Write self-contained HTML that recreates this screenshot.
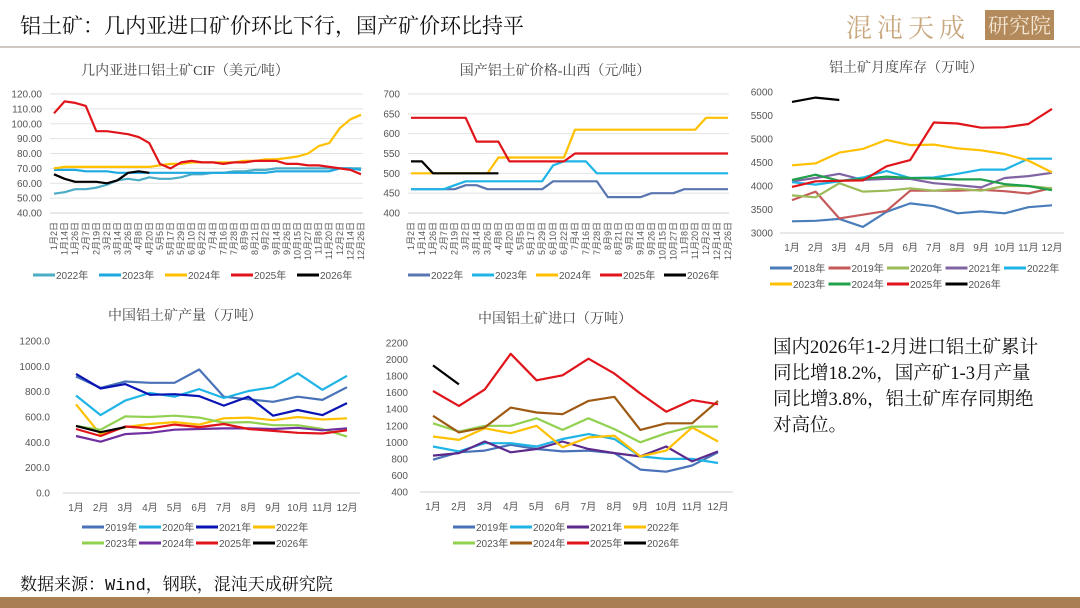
<!DOCTYPE html>
<html><head><meta charset="utf-8">
<style>
html,body{margin:0;padding:0;background:#fff;}
body{width:1080px;height:608px;position:relative;overflow:hidden;font-family:"Liberation Sans","Noto Sans CJK SC",sans-serif;}
.t{position:absolute;white-space:nowrap;}
</style></head>
<body>
<div class="t" style="left:20px;top:10px;font-size:21px;color:#111;font-family:'Liberation Serif','Noto Serif CJK SC',serif;">铝土矿：几内亚进口矿价环比下行，国产矿价环比持平</div>
<div style="position:absolute;left:846px;top:8px;height:30px;">
 <span class="t" style="left:0;top:0;font-size:26px;color:#c9a880;font-family:'Noto Serif CJK SC',serif;letter-spacing:5px;">混沌天成</span>
 <span class="t" style="left:139px;top:2px;background:#b38a5c;color:#f3e6d3;font-size:21px;padding:0 3px;font-family:'Noto Serif CJK SC',serif;">研究院</span>
</div>
<div style="position:absolute;left:0;top:46px;width:1080px;height:2px;background:#cfc8c0;"></div>
<div class="t" style="left:773px;top:335px;font-size:18.5px;line-height:26px;color:#111;font-family:'Liberation Serif','Noto Serif CJK SC',serif;">国内2026年1-2月进口铝土矿累计<br>同比增18.2%，国产矿1-3月产量<br>同比增3.8%，铝土矿库存同期绝<br>对高位。</div>
<div class="t" style="left:20px;top:570px;font-size:17px;color:#111;font-family:'Liberation Mono','Noto Serif CJK SC',monospace;">数据来源：Wind，钢联，混沌天成研究院</div>
<div style="position:absolute;left:0;top:597px;width:1080px;height:11px;background:#a87e52;"></div>
<svg id="s" width="1080" height="608" style="position:absolute;left:0;top:0;" xmlns="http://www.w3.org/2000/svg"></svg>
<script>
const dateLabels=["1月2日","1月14日","1月26日","2月7日","2月19日","3月2日","3月14日","3月26日","4月8日","4月20日","5月5日","5月17日","5月29日","6月10日","6月22日","7月4日","7月16日","7月28日","8月9日","8月21日","9月2日","9月14日","9月26日","10月15日","10月27日","11月8日","11月20日","12月2日","12月14日","12月26日"];
const monthLabels=["1月","2月","3月","4月","5月","6月","7月","8月","9月","10月","11月","12月"];
// chart 1: Guinea CIF
const cifTicks=[40,50,60,70,80,90,100,110,120];
const cif2022=[53,54,56,56,57,59,62,63,62,64,63,63,64,66,66,67,67,68,68,69,69,70,70,70,70,70,70,70,70,70];
const cif2023=[69,69,69,68,68,68,67,67,67,67,67,67,67,67,67,67,67,67,67,67,67,68,68,68,68,68,68,70,70,69];
const cif2024=[70,71,71,71,71,71,71,71,71,71,72,73,73,74,74,74,74,74,75,75,76,76,77,78,80,85,87,97,103,106];
const cif2025=[107,115,114,112,95,95,94,93,91,87,73,70,74,75,74,74,73,74,74,75,75,75,73,73,72,72,71,70,69,66];
const cif2026=[66,63,61,61,61,60,62,67,68,67];
// chart 2: Shanxi price
const sxTicks=[400,450,500,550,600,650,700];
const sx2022=[460,460,460,460,460,470,470,460,460,460,460,460,460,480,480,480,480,480,440,440,440,440,450,450,450,460,460,460,460,460];
const sx2023=[460,460,460,460,470,480,480,480,480,480,480,480,480,520,530,530,530,500,500,500,500,500,500,500,500,500,500,500,500,500];
const sx2024=[500,500,500,500,500,500,500,500,540,540,540,540,540,540,540,610,610,610,610,610,610,610,610,610,610,610,610,640,640,640];
const sx2025=[640,640,640,640,640,640,580,580,580,530,530,530,530,530,530,550,550,550,550,550,550,550,550,550,550,550,550,550,550,550];
const sx2026=[530,530,500,500,500,500,500,500,500];
// chart 3: inventory
const invTicks=[3000,3500,4000,4500,5000,5500,6000];
const inv2018=[3250,3260,3300,3130,3450,3630,3570,3420,3460,3420,3550,3590];
const inv2019=[3700,3880,3310,3390,3470,3900,3900,3900,3920,3890,3840,3960];
const inv2020=[3800,3760,4060,3880,3900,3950,3900,3940,3900,4000,4000,3950];
const inv2021=[4100,4170,4260,4130,4150,4150,4060,4020,3970,4170,4210,4280];
const inv2022=[4080,4030,4100,4180,4320,4170,4180,4260,4350,4350,4580,4580];
const inv2023=[4440,4480,4710,4790,4980,4870,4880,4800,4760,4680,4540,4290];
const inv2024=[4130,4240,4110,4150,4200,4170,4160,4140,4140,4040,4000,3910];
const inv2025=[3980,4100,4110,4120,4420,4550,5350,5330,5240,5250,5320,5640];
const inv2026=[5790,5880,5830];
// chart 4: production
const prodTicks=[0,200,400,600,800,1000,1200];
const prod2019=[920,830,880,870,870,975,760,740,720,760,735,835];
const prod2020=[770,615,730,790,760,820,750,805,835,945,815,925];
const prod2021=[940,825,860,775,780,765,690,760,610,655,615,710];
const prod2022=[700,460,520,545,560,540,590,595,575,600,580,590];
const prod2023=[530,500,605,600,610,595,555,560,535,535,505,445];
const prod2024=[450,405,465,475,500,505,510,510,505,515,495,510];
const prod2025=[505,450,525,510,540,520,545,505,490,475,470,495];
const prod2026=[530,480,520];
// chart 5: imports
const impTicks=[400,600,800,1000,1200,1400,1600,1800,2000,2200];
const imp2019=[790,880,900,970,920,890,900,870,670,645,720,880];
const imp2020=[950,890,990,990,950,1040,1100,1040,830,800,800,750];
const imp2021=[840,870,1010,880,920,1010,920,870,830,950,770,890];
const imp2022=[1070,1030,1170,1110,1200,940,1060,1080,830,900,1180,1010];
const imp2023=[1230,1130,1200,1200,1290,1150,1290,1160,1000,1110,1190,1190];
const imp2024=[1320,1120,1180,1420,1360,1340,1500,1550,1150,1230,1230,1500];
const imp2025=[1620,1440,1640,2070,1750,1810,2010,1830,1590,1370,1510,1460];
const imp2026=[1930,1700];

const svg=document.getElementById('s');
const NS='http://www.w3.org/2000/svg';
function mk(tag,attrs,parent){const e=document.createElementNS(NS,tag);for(const k in attrs)e.setAttribute(k,attrs[k]);(parent||svg).appendChild(e);return e;}

function chart(c){
  const g=mk('g',{});
  
  
  const ymin=c.ticks[0],ymax=c.ticks[c.ticks.length-1];
  const ys=v=>c.yb-(v-ymin)/(ymax-ymin)*(c.yb-c.yt);
  const xs=i=>c.x0+i*(c.x1-c.x0)/(c.cats.length-1);
  const tt=mk('text',{x:c.tx,y:c.ty,'text-anchor':'middle','font-size':14,fill:'#444','font-family':"'Liberation Serif','Noto Serif CJK SC',serif"},g);
  tt.textContent=c.title;
  
  
  c.ticks.forEach(v=>{
    if(c.grid||v===ymin){
      const l=mk('line',{x1:c.gx0,x2:c.gx1,y1:ys(v),y2:ys(v),stroke:v===ymin?'#d0d0d0':'#e2e2e2','stroke-width':1},g);
      
      
    }
    const t=mk('text',{x:c.lx,y:ys(v)+3.5,'text-anchor':'end','font-size':10,fill:'#555'},g);
    t.textContent=c.fmt(v);
    
    
  });
  c.cats.forEach((s,i)=>{
    let t;
    if(c.rot){
      t=mk('text',{x:0,y:0,'text-anchor':'end','font-size':9,fill:'#555',transform:`translate(${xs(i)+3},${c.yb+9}) rotate(-90)`},g);
    }else{
      t=mk('text',{x:xs(i),y:c.yb+18,'text-anchor':'middle','font-size':10,fill:'#555'},g);
    }
    t.textContent=s;
    
    
  });
  c.series.forEach(s=>{
    const p=mk('polyline',{points:s.v.map((v,i)=>xs(i).toFixed(1)+','+ys(v).toFixed(1)).join(' '),fill:'none',stroke:s.c,'stroke-width':2.2,'stroke-linejoin':'round'},g);
    
    
  });
  c.series.forEach((s,k)=>{
    const row=Math.floor(k/c.per),col=k%c.per;
    const lx=c.legX+col*c.legDx,ly=c.legY+row*16;
    const l=mk('line',{x1:lx,x2:lx+22,y1:ly,y2:ly,stroke:s.c,'stroke-width':3},g);
    
    
    const t=mk('text',{x:lx+23,y:ly+4,'font-size':10,fill:'#555'},g);
    t.textContent=s.n;
    
    
  });
}
const f2=v=>v.toFixed(2),f1=v=>v.toFixed(1),f0=v=>String(v);
chart({name:'cif-chart',title:'几内亚进口铝土矿CIF（美元/吨）',tx:185,ty:75,ticks:cifTicks,fmt:f2,yt:94,yb:213,x0:54,x1:361,gx0:50,gx1:363,lx:42,cats:dateLabels,rot:true,grid:true,
 series:[{n:'2022年',v:cif2022,c:'#4bacc6'},{n:'2023年',v:cif2023,c:'#1ea8e0'},{n:'2024年',v:cif2024,c:'#ffc000'},{n:'2025年',v:cif2025,c:'#e0141b'},{n:'2026年',v:cif2026,c:'#000'}],
 legX:33,legY:275,legDx:66,per:5});
chart({name:'shanxi-price-chart',title:'国产铝土矿价格-山西（元/吨）',tx:555,ty:75,ticks:sxTicks,fmt:f0,yt:94,yb:213,x0:411,x1:728,gx0:408,gx1:729,lx:400,cats:dateLabels,rot:true,grid:true,
 series:[{n:'2022年',v:sx2022,c:'#5a76b0'},{n:'2023年',v:sx2023,c:'#1eb4e6'},{n:'2024年',v:sx2024,c:'#ffc000'},{n:'2025年',v:sx2025,c:'#e0141b'},{n:'2026年',v:sx2026,c:'#000'}],
 legX:408,legY:275,legDx:64,per:5});
chart({name:'inventory-chart',title:'铝土矿月度库存（万吨）',tx:906,ty:72,ticks:invTicks,fmt:f0,yt:92,yb:233,x0:792,x1:1052,gx0:780,gx1:1064,lx:773,cats:monthLabels,rot:false,grid:false,
 series:[{n:'2018年',v:inv2018,c:'#4a7ebb'},{n:'2019年',v:inv2019,c:'#c55a5a'},{n:'2020年',v:inv2020,c:'#9bbb59'},{n:'2021年',v:inv2021,c:'#8064a2'},{n:'2022年',v:inv2022,c:'#1eb4e6'},{n:'2023年',v:inv2023,c:'#ffc000'},{n:'2024年',v:inv2024,c:'#1fa04a'},{n:'2025年',v:inv2025,c:'#e0141b'},{n:'2026年',v:inv2026,c:'#000'}],
 legX:770,legY:268,legDx:58.5,per:5});
chart({name:'production-chart',title:'中国铝土矿产量（万吨）',tx:185,ty:320,ticks:prodTicks,fmt:f1,yt:341,yb:493,x0:76,x1:347,gx0:63,gx1:360,lx:50,cats:monthLabels,rot:false,grid:false,
 series:[{n:'2019年',v:prod2019,c:'#4a72b8'},{n:'2020年',v:prod2020,c:'#1eb4e6'},{n:'2021年',v:prod2021,c:'#0a14b4'},{n:'2022年',v:prod2022,c:'#ffc000'},{n:'2023年',v:prod2023,c:'#92d050'},{n:'2024年',v:prod2024,c:'#7030a0'},{n:'2025年',v:prod2025,c:'#e0141b'},{n:'2026年',v:prod2026,c:'#000'}],
 legX:82,legY:527,legDx:57,per:4});
chart({name:'imports-chart',title:'中国铝土矿进口（万吨）',tx:555,ty:323,ticks:impTicks,fmt:f0,yt:343,yb:492,x0:433,x1:718,gx0:420,gx1:733,lx:408,cats:monthLabels,rot:false,grid:false,
 series:[{n:'2019年',v:imp2019,c:'#4a72b8'},{n:'2020年',v:imp2020,c:'#1eb4e6'},{n:'2021年',v:imp2021,c:'#5b2a8c'},{n:'2022年',v:imp2022,c:'#ffc000'},{n:'2023年',v:imp2023,c:'#92d050'},{n:'2024年',v:imp2024,c:'#9e5a14'},{n:'2025年',v:imp2025,c:'#e0141b'},{n:'2026年',v:imp2026,c:'#000'}],
 legX:453,legY:527,legDx:57,per:4});
</script>
</body></html>
